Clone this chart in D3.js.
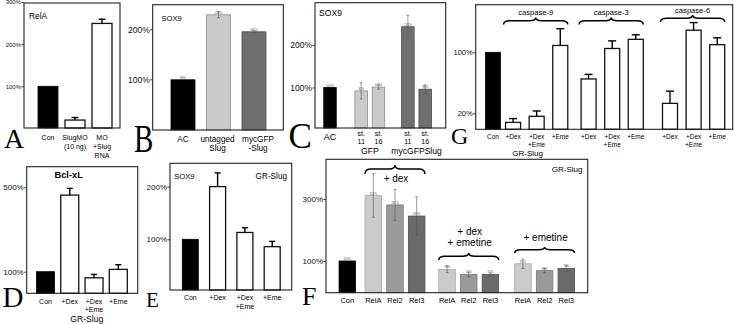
<!DOCTYPE html>
<html><head><meta charset="utf-8">
<script src="https://cdn.jsdelivr.net/npm/d3@7"></script>
<style>body{margin:0;background:#fff}svg{display:block}</style>
</head><body>
<svg id="fig" width="734" height="324"></svg>
<script>
// ---------- DATA ----------
// Panel A
const aCategories = [["Con"], ["SlugMO", "(10 ng)"], ["MO", "+Slug", "RNA"]];
const aKinds = ["control", "treated", "treated"];
const aValues = [100, 20, 249];
const aErrors = [0, 6, 10];
const aTicks = [100, 200, 300];
// Panel B
const bCategories = [["AC"], ["untagged", "Slug"], ["mycGFP", "-Slug"]];
const bKinds = ["control", "untagged", "myc"];
const bValues = [99, 229, 195];
const bErrors = [0, 6, 2];
const bTicks = [100, 200];
// Panel C
const cCategories = [["AC"], ["st.", "11"], ["st.", "16"], ["st.", "11"], ["st.", "16"]];
const cGroups = ["", "GFP", "GFP", "mycGFPSlug", "mycGFPSlug"];
const cKinds = ["control", "gfp", "gfp", "myc", "myc"];
const cValues = [100, 92, 101, 243, 96];
const cErrors = [0, 19, 5, 27, 10];
const cTicks = [100, 200];
// Panel G
const gCategories = [["Con"], ["+Dex"], ["+Dex", "+Eme"], ["+Eme"], ["+Dex"], ["+Dex", "+Eme"], ["+Eme"], ["+Dex"], ["+Dex", "+Eme"], ["+Eme"]];
const gGroups = ["", "caspase-9", "caspase-9", "caspase-9", "caspase-3", "caspase-3", "caspase-3", "caspase-6", "caspase-6", "caspase-6"];
const gKinds = ["control", "treated", "treated", "treated", "treated", "treated", "treated", "treated", "treated", "treated"];
const gValues = [100, 8, 16, 109, 65, 105, 117, 33, 129, 110];
const gErrors = [0, 5, 7, 22, 6, 10, 6, 16, 10, 9];
const gTicks = [20, 100];
// Panel D
const dCategories = [["Con"], ["+Dex"], ["+Dex", "+Eme"], ["+Eme"]];
const dKinds = ["control", "treated", "treated", "treated"];
const dValues = [100, 463, 71, 111];
const dErrors = [0, 32, 16, 22];
const dTicks = [100, 500];
// Panel E
const eCategories = [["Con"], ["+Dex"], ["+Dex", "+Eme"], ["+Eme"]];
const eKinds = ["control", "treated", "treated", "treated"];
const eValues = [100, 200, 113, 86];
const eErrors = [0, 26, 9, 10];
const eTicks = [100, 200];
// Panel F
const fCategories = [["Con"], ["RelA"], ["Rel2"], ["Rel3"], ["RelA"], ["Rel2"], ["Rel3"], ["RelA"], ["Rel2"], ["Rel3"]];
const fGroups = ["", "+ dex", "+ dex", "+ dex", "+ dex|+ emetine", "+ dex|+ emetine", "+ dex|+ emetine", "+ emetine", "+ emetine", "+ emetine"];
const fKinds = ["control", "RelA", "Rel2", "Rel3", "RelA", "Rel2", "Rel3", "RelA", "Rel2", "Rel3"];
const fValues = [100, 311, 281, 245, 73, 57, 57, 91, 69, 76];
const fErrors = [0, 70, 50, 62, 11, 7, 5, 15, 7, 9];
const fTicks = [100, 300];

// ---------- STYLE / LAYOUT ----------
const SANS = '"Liberation Sans", Arial, Helvetica, sans-serif';
const SERIF = '"Liberation Serif", "Times New Roman", Times, serif';
const kindList = ["control", "treated", "gfp", "myc", "untagged", "RelA", "Rel2", "Rel3"];
const kindColor = d3.scaleOrdinal().domain(kindList)
  .range(["#000000", "#ffffff", "#cacaca", "#6f6f6f", "#cacaca", "#cbcbcb", "#9a9a9a", "#6a6a6a"]);
const kindStroke = d3.scaleOrdinal().domain(kindList)
  .range(["#000000", "#111111", "#8c8c8c", "#4c4c4c", "#8c8c8c", "#a8a8a8", "#7a7a7a", "#505050"]);

const svg = d3.select("#fig");

function textLines(g, x, yBase, arr, fs, lh, anchor, weight) {
  const t = g.append("text").attr("x", x).attr("y", yBase)
    .attr("text-anchor", anchor || "middle").attr("font-size", fs)
    .attr("font-family", SANS).attr("fill", "#000");
  if (weight) t.attr("font-weight", weight);
  arr.forEach((s, k) => t.append("tspan").attr("x", x).attr("y", yBase + k * lh).text(s));
  return t;
}

function brace(g, x1, x2, yTip, yEnd) {
  const xm = (x1 + x2) / 2, ym = yTip + (yEnd - yTip) * 0.45, r = Math.min(6, (x2 - x1) / 8);
  const p = `M${x1},${yEnd} Q${x1},${ym} ${x1 + r},${ym} L${xm - r},${ym} Q${xm},${ym} ${xm},${yTip} ` +
            `Q${xm},${ym} ${xm + r},${ym} L${x2 - r},${ym} Q${x2},${ym} ${x2},${yEnd}`;
  g.append("path").attr("d", p).attr("fill", "none").attr("stroke", "#000").attr("stroke-width", 1.5);
}

function letter(ch, x, y, fs, sy) {
  svg.append("text").attr("transform", `translate(${x},${y}) scale(1,${sy || 1})`)
    .attr("font-family", SERIF).attr("font-size", fs).attr("fill", "#000").text(ch);
}

function drawPanel(L, D) {
  const g = svg.append("g");
  const y = d3.scaleLinear().domain([0, 100]).range([L.y0, L.y100]);
  const x = d3.scaleLinear().domain([L.slots[0], L.slots[L.slots.length - 1]]).range([L.xFirst, L.xLast]);
  const cx = i => x(L.slots[i]);
  // bars
  g.selectAll("rect.bar").data(D.values).join("rect").attr("class", "bar")
    .attr("x", (d, i) => cx(i) - L.barW / 2).attr("y", d => y(d))
    .attr("width", L.barW).attr("height", d => L.bottom - y(d))
    .attr("fill", (d, i) => kindColor(D.kinds[i]))
    .attr("stroke", (d, i) => kindStroke(D.kinds[i]))
    .attr("stroke-width", (d, i) => D.kinds[i] === "treated" ? 1.3 : 0.8);
  // error bars
  D.values.forEach((v, i) => {
    const e = D.errors[i];
    if (!e) return;
    if (L.err === "up") {
      g.append("line").attr("x1", cx(i)).attr("x2", cx(i)).attr("y1", y(v)).attr("y2", y(v + e))
        .attr("stroke", "#000").attr("stroke-width", 1.4);
      g.append("line").attr("x1", cx(i) - L.cap / 2).attr("x2", cx(i) + L.cap / 2)
        .attr("y1", y(v + e)).attr("y2", y(v + e)).attr("stroke", "#000").attr("stroke-width", 1.4);
    } else {
      g.append("line").attr("x1", cx(i)).attr("x2", cx(i)).attr("y1", y(v - e)).attr("y2", y(v + e))
        .attr("stroke", "#555").attr("stroke-width", 0.6);
      [v - e, v + e].forEach(w => g.append("line").attr("x1", cx(i) - L.cap / 2).attr("x2", cx(i) + L.cap / 2)
        .attr("y1", y(w)).attr("y2", y(w)).attr("stroke", "#555").attr("stroke-width", 0.6));
    }
  });
  // tiny value labels
  if (L.valueLabels) {
    g.selectAll("text.vl").data(D.values).join("text").attr("class", "vl")
      .attr("x", (d, i) => cx(i)).attr("y", d => y(d) - 1)
      .attr("text-anchor", "middle").attr("font-size", 3).attr("font-family", SANS).attr("fill", "#555")
      .text(d => Math.round(d) + "%");
  }
  // frame
  g.append("rect").attr("x", L.left).attr("y", L.top).attr("width", L.right - L.left)
    .attr("height", L.bottom - L.top).attr("fill", "none").attr("stroke", "#222").attr("stroke-width", 1.1);
  // y axis
  const ax = d3.axisLeft(y).tickValues(D.ticks).tickFormat(d => d + "%").tickSize(2.5).tickPadding(0.5);
  const axg = g.append("g").attr("transform", `translate(${L.left},0)`).call(ax);
  axg.select(".domain").remove();
  axg.selectAll("line").attr("stroke", "#333");
  axg.selectAll("text").attr("font-size", L.tickFs).attr("font-family", SANS).attr("fill", "#111");
  // category labels
  D.categories.forEach((c, i) => {
    const dx = L.labelDx ? L.labelDx[i] : 0;
    textLines(g, cx(i) + dx, L.labelY, c, L.catFs, L.lineH);
  });
  return { g, x, y, cx };
}

// ---------- PANEL A ----------
const A = drawPanel({ left: 24, right: 120, top: 3, bottom: 128, y0: 128.5, y100: 86.3, slots: [0, 1, 2],
  xFirst: 48, xLast: 102, barW: 20, err: "up", cap: 7, tickFs: 6, catFs: 7, labelY: 139.5, lineH: 9 },
  { categories: aCategories, kinds: aKinds, values: aValues, errors: aErrors, ticks: aTicks });
textLines(A.g, 29, 19, ["RelA"], 8.4, 0, "start");
letter("A", 4, 148, 28);

// ---------- PANEL B ----------
const B = drawPanel({ left: 152.7, right: 283.3, top: 4.7, bottom: 130, y0: 129.3, y100: 79.3, slots: [0, 1, 2],
  xFirst: 183, xLast: 254, barW: 24, err: "both", cap: 3, valueLabels: true, tickFs: 8.5, catFs: 8.2,
  labelY: 142, lineH: 9, labelDx: [0, -1, 4] },
  { categories: bCategories, kinds: bKinds, values: bValues, errors: bErrors, ticks: bTicks });
textLines(B.g, 161.5, 21, ["SOX9"], 7.6, 0, "start");
letter("B", 134, 151.5, 29, 1.35);

// ---------- PANEL C ----------
const Cl = { left: 315, right: 445.7, top: 2.7, bottom: 128, y0: 130, y100: 87.5, slots: [0, 1.8, 2.8, 4.5, 5.5],
  xFirst: 330, xLast: 425.2, barW: 12.5, err: "both", cap: 3, valueLabels: true, tickFs: 8.5, catFs: 7, labelY: 135.8, lineH: 7.8 };
const C = drawPanel(Cl, { categories: cCategories, kinds: cKinds, values: cValues, errors: cErrors, ticks: cTicks });
C.g.selectAll("text").filter(function () { return this.textContent === "AC"; })
  .attr("font-size", 9).selectAll("tspan").attr("y", 139.8);
Array.from(new Set(cGroups.filter(s => s))).forEach(name => {
  const idx = cGroups.map((s, i) => s === name ? i : -1).filter(i => i >= 0);
  textLines(C.g, d3.mean(idx, i => C.cx(i)), 154, [name], 8.6, 0);
});
textLines(C.g, 319, 15.8, ["SOX9"], 8.6, 0, "start");
letter("C", 288.5, 148, 35);

// ---------- PANEL G ----------
const Gl = { left: 475.7, right: 732.7, top: 4.7, bottom: 129.3, y0: 128.5, y100: 52.3,
  slots: [0, 0.85, 1.85, 2.85, 4.05, 5.05, 6.05, 7.5, 8.5, 9.5],
  xFirst: 493, xLast: 717.2, barW: 15, err: "up", cap: 8, tickFs: 7.5, catFs: 6.5, labelY: 139, lineH: 7.5 };
const G = drawPanel(Gl, { categories: gCategories, kinds: gKinds, values: gValues, errors: gErrors, ticks: gTicks });
const gBraceLift = { "caspase-9": 0, "caspase-3": 0, "caspase-6": 2.5 };
Array.from(new Set(gGroups.filter(s => s))).forEach(name => {
  const idx = gGroups.map((s, i) => s === name ? i : -1).filter(i => i >= 0);
  const x1 = G.cx(idx[0]) - Gl.barW / 2 - 2, x2 = G.cx(idx[idx.length - 1]) + Gl.barW / 2;
  const lift = gBraceLift[name];
  brace(G.g, x1, x2, 17.5 - lift, 24.5 - lift);
  textLines(G.g, (x1 + x2) / 2, 15 - lift, [name], 7.6, 0);
});
textLines(G.g, (G.cx(0) + G.cx(3)) / 2 + 1, 155.5, ["GR-Slug"], 8, 0);
letter("G", 451, 144, 24);

// ---------- PANEL D ----------
const Dl = { left: 26.7, right: 137.7, top: 166.7, bottom: 293.3, y0: 292.8, y100: 271.7, slots: [0, 1, 2, 3],
  xFirst: 45.5, xLast: 118.3, barW: 18, err: "up", cap: 6, tickFs: 8, catFs: 7, labelY: 304, lineH: 8.2 };
const Dp = drawPanel(Dl, { categories: dCategories, kinds: dKinds, values: dValues, errors: dErrors, ticks: dTicks });
textLines(Dp.g, 68.7, 178.2, ["Bcl-xL"], 9.3, 0, "middle", "bold");
textLines(Dp.g, Dp.x(1.7), 322, ["GR-Slug"], 8.6, 0);
letter("D", 2.5, 306.5, 29);

// ---------- PANEL E ----------
const El = { left: 170, right: 291.7, top: 163.3, bottom: 290, y0: 292, y100: 239.3, slots: [0, 1, 2, 3],
  xFirst: 190.3, xLast: 272.2, barW: 16, err: "up", cap: 6, tickFs: 8, catFs: 7, labelY: 299.8, lineH: 8.7 };
const E = drawPanel(El, { categories: eCategories, kinds: eKinds, values: eValues, errors: eErrors, ticks: eTicks });
textLines(E.g, 174.3, 178.8, ["SOX9"], 7.6, 0, "start");
textLines(E.g, 287, 178.8, ["GR-Slug"], 8.2, 0, "end");
letter("E", 146, 306.5, 21);

// ---------- PANEL F ----------
const Fl = { left: 326, right: 587.7, top: 159.3, bottom: 292.7, y0: 292, y100: 261,
  slots: [0, 1.2, 2.2, 3.2, 4.6, 5.6, 6.6, 8.1, 9.1, 10.1],
  xFirst: 347.3, xLast: 566.3, barW: 16.5, err: "both", cap: 3, valueLabels: true, tickFs: 8, catFs: 7.5, labelY: 303.4, lineH: 8 };
const F = drawPanel(Fl, { categories: fCategories, kinds: fKinds, values: fValues, errors: fErrors, ticks: fTicks });
textLines(F.g, 582.5, 172, ["GR-Slug"], 8, 0, "end");
// brace/label placement per group: [braceTip, braceEnd, textBaseline]
const fBraceLayout = { "+ dex": [165, 174, 182], "+ dex|+ emetine": [253, 260, 235.2], "+ emetine": [247, 253, 240.8] };
Array.from(new Set(fGroups.filter(s => s))).forEach(name => {
  const idx = fGroups.map((s, i) => s === name ? i : -1).filter(i => i >= 0);
  const x1 = F.cx(idx[0]) - Fl.barW / 2, x2 = F.cx(idx[idx.length - 1]) + Fl.barW / 2;
  const [tip, end, tb] = fBraceLayout[name];
  brace(F.g, x1, x2, tip, end);
  textLines(F.g, (x1 + x2) / 2 + 1, tb, name.split("|"), 10, 11);
});
letter("F", 302, 305, 26);
</script>
</body></html>
